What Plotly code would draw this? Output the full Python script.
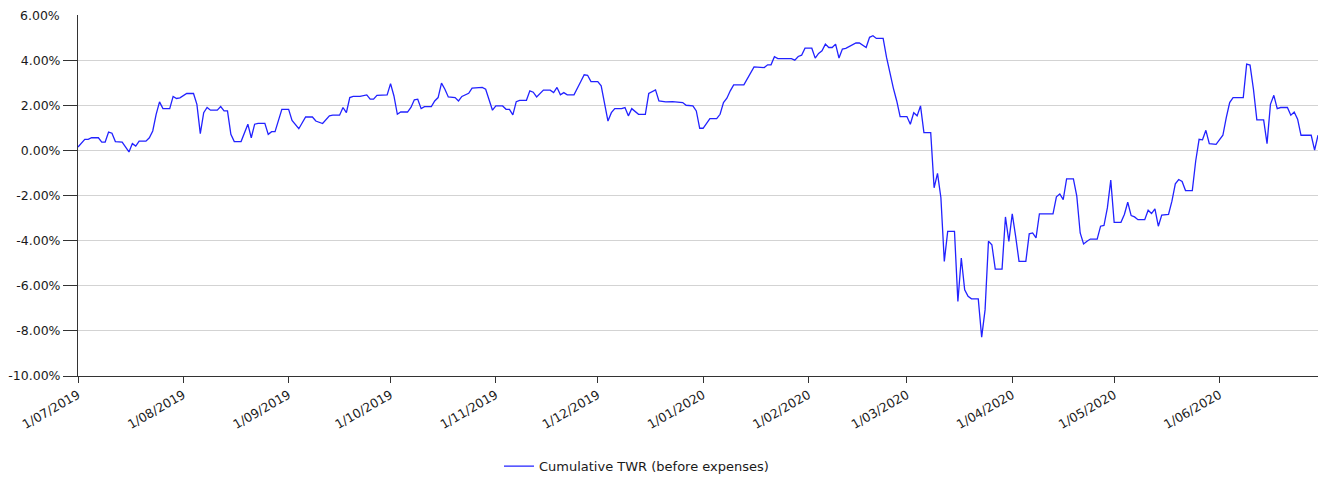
import pandas as pd
import plotly.graph_objects as go

start_date = "2019-07-01"
end_date = "2020-06-30"
series_name = "Cumulative TWR (before expenses)"

day_offsets = [
    0, 2, 3, 4, 6, 7, 8, 9, 10, 11, 13, 14, 15, 16, 17, 18, 20, 21, 22, 23, 24, 25, 27, 28, 29, 30,
    32, 34, 35, 36, 37, 38, 39, 41, 42, 43, 44, 45, 46, 48, 49, 50, 51, 52, 53, 55, 56, 57, 58, 60,
    62, 63, 65, 67, 69, 70, 72, 74, 75, 77, 78, 79, 80, 81, 83, 85, 86, 87, 88, 91, 92, 93, 94, 95,
    97, 98, 99, 100, 101, 102, 104, 105, 106, 107, 108, 109, 111, 112, 113, 115, 116, 119, 120, 121,
    122, 123, 125, 126, 127, 128, 129, 130, 132, 133, 134, 135, 136, 137, 139, 140, 141, 142, 143,
    144, 146, 147, 148, 149, 150, 151, 153, 154, 155, 156, 157, 158, 160, 161, 162, 163, 165, 167,
    168, 170, 171, 173, 175, 177, 178, 179, 181, 182, 183, 184, 186, 188, 189, 190, 191, 192, 193,
    196, 197, 198, 199, 202, 203, 204, 205, 206, 210, 211, 212, 213, 214, 216, 217, 218, 219, 220,
    221, 222, 223, 224, 225, 226, 228, 229, 230, 232, 233, 234, 235, 237, 238, 239, 240, 241, 242,
    244, 245, 246, 247, 248, 249, 251, 252, 253, 254, 255, 256, 258, 259, 260, 261, 262, 263, 265,
    266, 267, 268, 269, 270, 272, 273, 274, 275, 276, 277, 279, 280, 281, 282, 283, 287, 288, 289,
    290, 291, 293, 294, 295, 296, 297, 298, 300, 301, 302, 303, 304, 305, 307, 308, 309, 310, 311,
    312, 314, 315, 316, 317, 318, 319, 321, 322, 323, 324, 325, 326, 328, 329, 330, 331, 332, 333,
    335, 336, 337, 338, 339, 340, 343, 344, 345, 346, 347, 349, 350, 351, 352, 353, 354, 356, 357,
    358, 359, 360, 363, 364, 365,
]

twr_values = [
    0.15, 0.49, 0.49, 0.56, 0.56, 0.37, 0.37, 0.81, 0.76, 0.39, 0.37, 0.15, -0.07, 0.30, 0.19, 0.41,
    0.41, 0.56, 0.86, 1.60, 2.15, 1.85, 1.85, 2.39, 2.30, 2.33, 2.52, 2.52, 2.04, 0.74, 1.67, 1.90,
    1.78, 1.78, 1.94, 1.75, 1.75, 0.71, 0.39, 0.39, 0.79, 1.16, 0.56, 1.16, 1.20, 1.20, 0.71, 0.83,
    0.83, 1.82, 1.82, 1.33, 0.96, 1.48, 1.48, 1.30, 1.19, 1.53, 1.56, 1.56, 1.90, 1.67, 2.34, 2.39,
    2.39, 2.46, 2.27, 2.27, 2.44, 2.46, 2.96, 2.41, 1.60, 1.70, 1.70, 1.90, 2.24, 2.27, 1.85, 1.94,
    1.94, 2.19, 2.34, 2.98, 2.71, 2.37, 2.34, 2.19, 2.39, 2.53, 2.76, 2.79, 2.71, 2.24, 1.78, 1.97,
    1.97, 1.82, 1.82, 1.57, 2.16, 2.22, 2.22, 2.64, 2.58, 2.37, 2.52, 2.67, 2.67, 2.56, 2.79, 2.46,
    2.56, 2.46, 2.46, 2.79, 3.05, 3.35, 3.33, 3.05, 3.05, 2.86, 2.12, 1.30, 1.67, 1.85, 1.85, 1.90,
    1.53, 1.85, 1.60, 1.60, 2.52, 2.68, 2.19, 2.15, 2.16, 2.12, 2.12, 2.00, 1.97, 1.75, 0.98, 0.98,
    1.41, 1.41, 1.60, 2.12, 2.31, 2.64, 2.90, 2.90, 3.19, 3.42, 3.70, 3.67, 3.79, 3.79, 4.15, 4.07,
    4.07, 4.00, 4.16, 4.22, 4.53, 4.53, 4.09, 4.30, 4.41, 4.71, 4.56, 4.56, 4.71, 4.09, 4.49, 4.52,
    4.70, 4.76, 4.76, 4.56, 5.01, 5.08, 4.96, 4.96, 4.12, 3.38, 2.76, 2.19, 1.50, 1.50, 1.16, 1.67,
    1.53, 1.97, 0.79, 0.79, -1.66, -1.02, -2.10, -4.92, -3.59, -3.59, -6.70, -4.77, -6.18, -6.47,
    -6.58, -6.58, -8.28, -7.07, -4.03, -4.18, -5.26, -5.26, -2.95, -4.03, -2.81, -3.81, -4.92, -4.92,
    -3.70, -3.66, -3.88, -2.81, -2.81, -2.06, -1.93, -2.18, -1.26, -1.26, -2.03, -3.66, -4.15, -4.03,
    -3.93, -3.93, -3.36, -3.33, -2.55, -1.32, -3.19, -3.19, -2.84, -2.30, -2.89, -2.95, -3.07, -3.07,
    -2.65, -2.80, -2.59, -3.36, -2.87, -2.84, -2.25, -1.48, -1.29, -1.38, -1.78, -1.78, -0.47, 0.49,
    0.47, 0.89, 0.30, 0.27, 0.49, 0.67, 1.45, 2.12, 2.34, 2.34, 3.82, 3.78, 2.71, 1.35, 1.35, 0.30,
    2.04, 2.44, 1.85, 1.90, 1.90, 1.56, 1.70, 1.38, 0.67, 0.67, 0.01, 0.67,
]

month_ticks = pd.date_range("2019-07-01", "2020-06-01", freq="MS")
y_tick_values = [-10, -8, -6, -4, -2, 0, 2, 4]
y_tick_labels = [f"{v:.2f}%" for v in y_tick_values]
y_top = 6

dates = pd.Timestamp(start_date) + pd.to_timedelta(day_offsets, unit="D")

axis_color = "#333333"
text_color = "#1a1a1a"
font_main = "DejaVu Sans"

fig = go.Figure()
fig.add_trace(go.Scatter(
    x=dates, y=twr_values, mode="lines", name=series_name,
    line=dict(color="#2222ff", width=1.3),
))

# page body has an 8px default margin, so the figure is sized to fit the window
fig.update_layout(
    width=1320, height=470,
    margin=dict(l=70, r=10, t=7, b=102, autoexpand=False),
    paper_bgcolor="white", plot_bgcolor="white",
    showlegend=True,
    legend=dict(
        orientation="h", x=0.3395, xanchor="left", y=-0.25, yanchor="middle",
        font=dict(family=font_main, size=13, color=text_color),
        itemwidth=30,
    ),
    xaxis=dict(
        range=[start_date, end_date],
        tickvals=month_ticks, tickformat="%-d/%m/%Y",
        tickangle=-30, automargin=False,
        ticks="outside", ticklen=6, tickcolor=axis_color,
        showline=True, linecolor=axis_color, linewidth=1,
        showgrid=False, zeroline=False,
        tickfont=dict(family=font_main, size=12.5, color=text_color),
    ),
    yaxis=dict(
        range=[-10, 6], automargin=False,
        tickvals=y_tick_values, ticktext=y_tick_labels,
        ticks="outside", ticklen=14, tickcolor=axis_color,
        showline=True, linecolor=axis_color, linewidth=1,
        showgrid=True, gridcolor="#d3d3d3", gridwidth=1,
        zeroline=False,
        tickfont=dict(family=font_main, size=12.5, color=text_color),
    ),
)

fig.add_annotation(
    x=0, xref="paper", xanchor="right", xshift=-16,
    y=y_top, yref="y", yanchor="middle",
    text=f"{y_top:.2f}%", showarrow=False,
    font=dict(family=font_main, size=12.5, color=text_color),
)

fig.write_html("out.html")
